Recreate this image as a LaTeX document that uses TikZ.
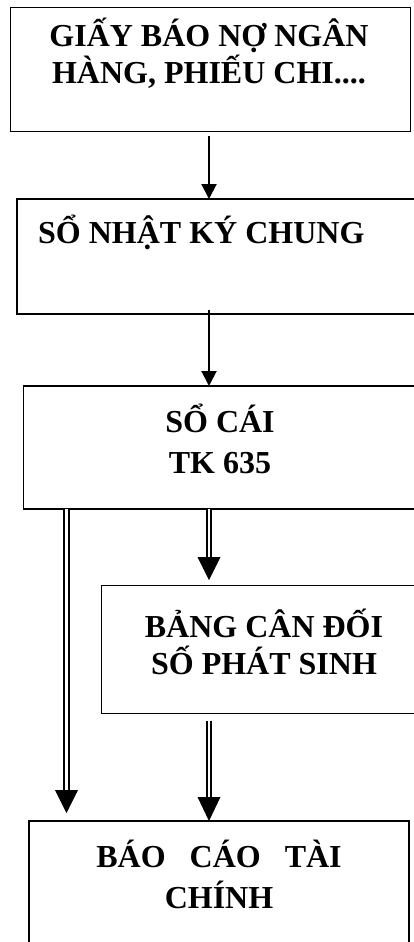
\documentclass[tikz,border=0pt]{standalone}
\usepackage{fontspec}
\setmainfont{Liberation Serif}
\usetikzlibrary{arrows.meta}
\begin{document}
\begin{tikzpicture}[x=1pt,y=-1pt,
  box/.style={draw, line width=1.7pt, rectangle, anchor=north west, inner sep=0pt, outer sep=0pt},
  lbl/.style={anchor=base, inner sep=0pt, font=\fontsize{32}{37}\selectfont\bfseries},
  arr/.style={line width=2pt, -{Triangle[length=15pt,width=15pt]}},
  dbl/.style={double, double distance=2.7pt, line width=2pt},
  head/.style={fill=black}]
\useasboundingbox (0,0) rectangle (414,942);
\clip (0,0) rectangle (414,942);
% boxes
\node[box, minimum width=400pt, minimum height=124pt] (b1) at (10.5,7.5) {};
\node[box, minimum width=420pt, minimum height=115pt] (b2) at (17,199) {};
\node[box, minimum width=420pt, minimum height=123pt] (b3) at (23.5,386) {};
\node[box, minimum width=340pt, minimum height=128pt] (b4) at (101.5,585.5) {};
\node[box, minimum width=380pt, minimum height=150pt] (b5) at (29,821) {};
% texts
\node[lbl] (t1a) at (209,47) {GIẤY BÁO NỢ NGÂN};
\node[lbl] (t1b) at (209,84) {HÀNG, PHIẾU CHI....};
\node[lbl, anchor=base west] (t2) at (38,243) {SỔ NHẬT KÝ CHUNG};
\node[lbl] (t3a) at (220,432) {SỔ CÁI};
\node[lbl] (t3b) at (220,473) {TK 635};
\node[lbl] (t4a) at (264,637) {BẢNG CÂN ĐỐI};
\node[lbl] (t4b) at (264,674) {SỐ PHÁT SINH};
\node[lbl] (t5a) at (219,867) {BÁO\ \ \ CÁO\ \ \ TÀI};
\node[lbl] (t5b) at (219,908) {CHÍNH};
% reference columns
\coordinate (cx) at (209,0);
\coordinate (lx) at (66.5,0);
% single arrows
\draw[arr, shorten <=4pt] (b1.south -| cx) -- (b2.north -| cx);
\draw[arr, shorten <=-4pt] (b2.south -| cx) -- (b3.north -| cx);
% double arrows
\coordinate (hL) at (66.5,790);
\coordinate (tL) at (66.5,813);
\draw[dbl] (b3.south -| lx) -- (hL);
\fill[head] (tL) -- ([xshift=-11.5pt]hL) -- ([xshift=11.5pt]hL) -- cycle;
\coordinate (h1) at (209,557);
\coordinate (t1) at (209,580);
\draw[dbl] (b3.south -| cx) -- (h1);
\fill[head] (t1) -- ([xshift=-11.5pt]h1) -- ([xshift=11.5pt]h1) -- cycle;
\coordinate (h2) at (209,797);
\draw[dbl, shorten <=7pt] (b4.south -| cx) -- (h2);
\fill[head] (b5.north -| cx) -- ([xshift=-11.5pt]h2) -- ([xshift=11.5pt]h2) -- cycle;
\end{tikzpicture}
\end{document}
